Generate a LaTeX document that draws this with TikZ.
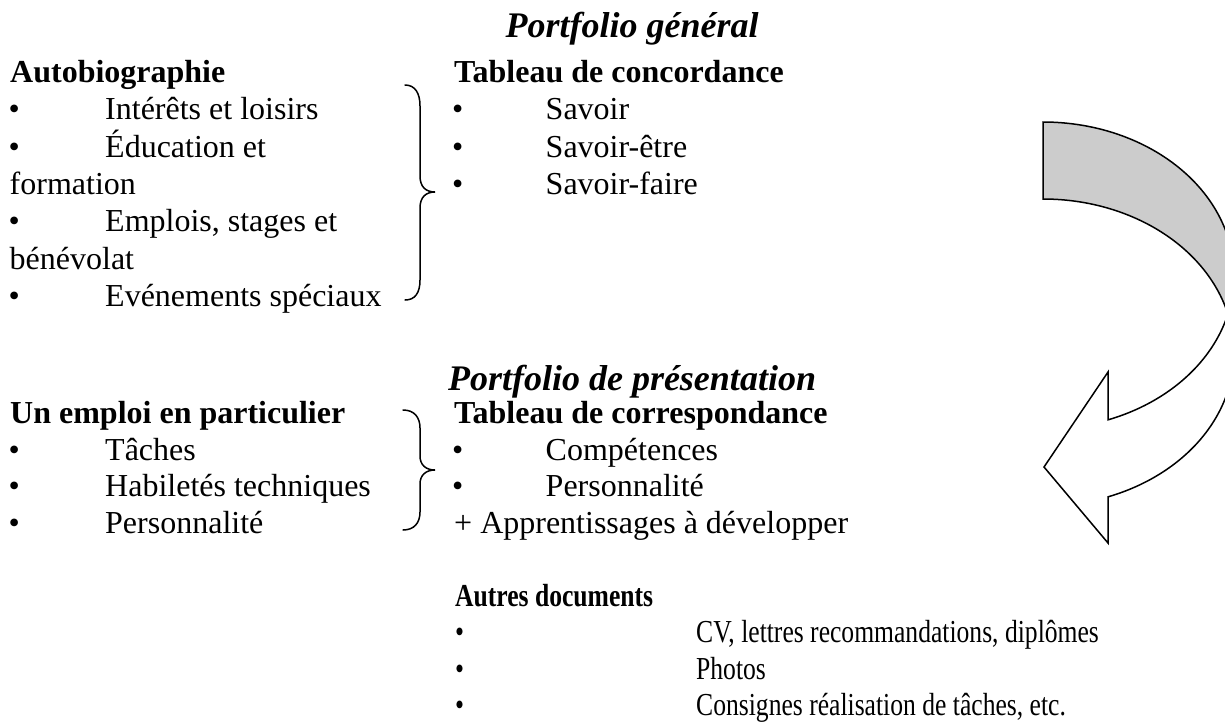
\documentclass[tikz,border=0pt]{standalone}
\usepackage{fontspec}
\usepackage{graphicx}
\setmainfont{Liberation Serif}
\definecolor{bandgray}{RGB}{204,204,204}
\tikzset{
  body/.style={anchor=base west, inner sep=0pt, font=\fontsize{32}{38}\selectfont},
  head/.style={anchor=base west, inner sep=0pt, font=\fontsize{32}{38}\selectfont\bfseries},
  sectitle/.style={anchor=base, inner sep=0pt, font=\fontsize{36}{42}\selectfont\bfseries\itshape},
  bracestroke/.style={line width=1.5pt, line cap=round},
  arrowstroke/.style={line width=1.5pt, line join=miter},
}
\begin{document}
\begin{tikzpicture}[x=1pt,y=-1pt]
\useasboundingbox (0,0) rectangle (1225,721);
\fill[white] (0,0) rectangle (1225,721);
\clip (0,0) rectangle (1225,721);

% ---- Portfolio général ----
\node[sectitle] (t1) at (632,37) {Portfolio général};

\node[head] (autobio) at (10,82.5) {Autobiographie};
\node[body] (ab1) at (8.5,119.8) {•};
\node[body] (at1) at (105,119.8) {Intérêts et loisirs};
\node[body] (ab2) at (8.5,157.1) {•};
\node[body] (at2) at (105,157.1) {Éducation et};
\node[body] (at2b) at (9.5,194.4) {formation};
\node[body] (ab3) at (8.5,231.7) {•};
\node[body] (at3) at (105,231.7) {Emplois, stages et};
\node[body] (at3b) at (9.5,269) {bénévolat};
\node[body] (ab4) at (8.5,306.3) {•};
\node[body] (at4) at (105,306.3) {Evénements spéciaux};

\node[head] (conc) at (454,82.5) {Tableau de concordance};
\node[body] (cb1) at (452,119.8) {•};
\node[body] (ct1) at (545.5,119.8) {Savoir};
\node[body] (cb2) at (452,157.1) {•};
\node[body] (ct2) at (545.5,157.1) {Savoir-être};
\node[body] (cb3) at (452,194.4) {•};
\node[body] (ct3) at (545.5,194.4) {Savoir-faire};

% brace joining the two upper lists
\draw[bracestroke] (405,85) .. controls (415,85) and (420,93) .. (420,106)
  -- (420,176) .. controls (420,187) and (426,192) .. (435,192)
  .. controls (426,192) and (420,197) .. (420,208)
  -- (420,280) .. controls (420,293) and (415,300) .. (405,300);

% ---- Portfolio de présentation ----
\node[sectitle] (t2) at (632,390) {Portfolio de présentation};

\node[head] (emploi) at (10,423) {Un emploi en particulier};
\node[body] (eb1) at (8.5,460) {•};
\node[body] (et1) at (105,460) {Tâches};
\node[body] (eb2) at (8.5,496.5) {•};
\node[body] (et2) at (105,496.5) {Habiletés techniques};
\node[body] (eb3) at (8.5,533) {•};
\node[body] (et3) at (105,533) {Personnalité};

\node[head] (corr) at (454,423) {Tableau de correspondance};
\node[body] (rb1) at (452,460) {•};
\node[body] (rt1) at (545.5,460) {Compétences};
\node[body] (rb2) at (452,496.5) {•};
\node[body] (rt2) at (545.5,496.5) {Personnalité};
\node[body] (appr) at (454,533) {+ Apprentissages à développer};

% brace joining the two lower lists
\draw[bracestroke] (403,410) .. controls (414,410) and (420,417) .. (420,428)
  -- (420,456) .. controls (420,465) and (426,470) .. (435,470)
  .. controls (426,470) and (420,475) .. (420,484)
  -- (420,512) .. controls (420,523) and (414,530) .. (403,530);

% ---- other documents (condensed text) ----
\node[head] (autres) at (455,606) {\scalebox{0.8}[1]{Autres documents}};
\node[body] (ob1) at (455,642.5) {\scalebox{0.8}[1]{•}};
\node[body] (ot1) at (696,642.5) {\scalebox{0.8}[1]{CV, lettres recommandations, diplômes}};
\node[body] (ob2) at (455,679) {\scalebox{0.8}[1]{•}};
\node[body] (ot2) at (696,679) {\scalebox{0.8}[1]{Photos}};
\node[body] (ob3) at (455,715.5) {\scalebox{0.8}[1]{•}};
\node[body] (ot3) at (696,715.5) {\scalebox{0.8}[1]{Consignes réalisation de tâches, etc.}};

% ---- curved arrow: back of the band in grey, front in white ----
\filldraw[arrowstroke, fill=bandgray]
  plot[variable=\t, domain=-90:14.5, samples=70] ({1043+191*cos(\t)},{275.5+153.5*sin(\t)})
  -- plot[variable=\t, domain=-14.5:-90, samples=70] ({1043+191*cos(\t)},{352.5+153.5*sin(\t)})
  -- cycle;
\filldraw[arrowstroke, fill=white]
  plot[variable=\t, domain=14.5:70.1, samples=50] ({1043+191*cos(\t)},{275.5+153.5*sin(\t)})
  -- (1108,372) -- (1044,467) -- (1108,543)
  -- plot[variable=\t, domain=70.1:14.5, samples=50] ({1043+191*cos(\t)},{352.5+153.5*sin(\t)})
  -- cycle;
\end{tikzpicture}
\end{document}
